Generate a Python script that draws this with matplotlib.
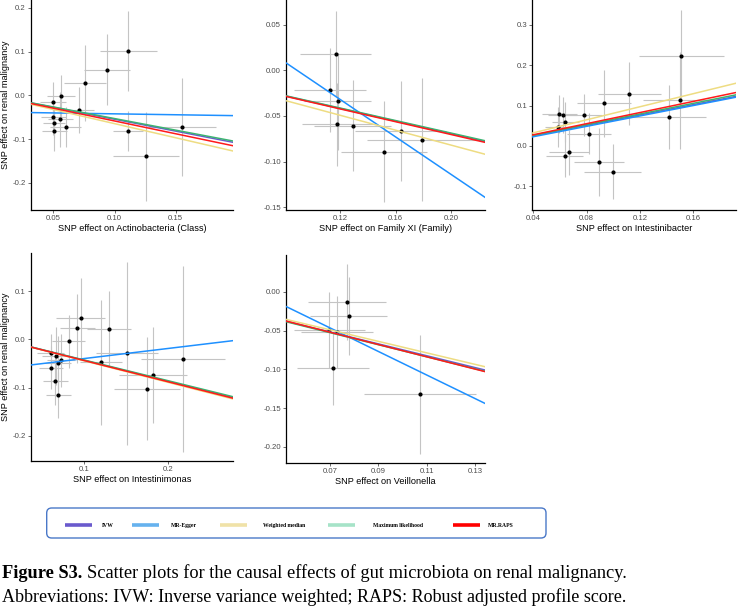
import matplotlib
matplotlib.use("Agg")
import matplotlib.pyplot as plt
from matplotlib.lines import Line2D
from matplotlib.patches import FancyBboxPatch
from matplotlib.transforms import IdentityTransform
import numpy as np

W, H = 738, 607

# ---------------- data ----------------
methods = ["IVW", "MR-Egger", "Weighted median", "Maximum likelihood", "MR.RAPS"]
line_colors = ["#6A5ACD", "#1E90FF", "#EEDC82", "#3CB371", "#FF1A1A"]
legend_colors = ["#6A5ACD", "#66B2EE", "#F0E2A8", "#A6E3C8", "#FF0000"]

x_titles = ["SNP effect on Actinobacteria (Class)", "SNP effect on Family XI (Family)",
            "SNP effect on Intestinibacter", "SNP effect on Intestinimonas",
            "SNP effect on Veillonella"]
y_title = "SNP effect on renal malignancy"

# panel 1: Actinobacteria (Class)
p1_bx = [0.0500, 0.0563, 0.0500, 0.0508, 0.0508, 0.0557, 0.0600, 0.0707, 0.0759, 0.0939, 0.1113, 0.1113, 0.1258, 0.1552]
p1_by = [-0.0145, -0.0015, -0.0500, -0.0630, -0.0810, -0.0550, -0.0716, -0.0335, 0.0280, 0.0590, 0.1010, -0.0820, -0.1390, -0.0730]
p1_sx = [0.0105, 0.0113, 0.0100, 0.0090, 0.0100, 0.0100, 0.0130, 0.0127, 0.0168, 0.0188, 0.0232, 0.0123, 0.0272, 0.0280]
p1_sy = [0.045, 0.048, 0.040, 0.035, 0.045, 0.062, 0.046, 0.052, 0.087, 0.081, 0.091, 0.046, 0.102, 0.112]
# intercepts / slopes per method (IVW, Egger, WM, ML, RAPS)
p1_icpt = [0.0, -0.038, 0.0, 0.0, 0.0]
p1_slope = [-0.545, -0.042, -0.646, -0.530, -0.585]

# panel 2: Family XI (Family)
p2_bx = [0.1169, 0.1128, 0.1183, 0.1181, 0.1291, 0.1516, 0.1636, 0.1792]
p2_by = [0.0182, -0.0215, -0.0340, -0.0590, -0.0606, -0.0890, -0.0664, -0.0760]
p2_sx = [0.0257, 0.0257, 0.0243, 0.0257, 0.0275, 0.0307, 0.0329, 0.0395]
p2_sy = [0.0465, 0.0456, 0.0530, 0.0456, 0.0500, 0.0550, 0.0550, 0.0675]
p2_icpt = [0.0, 0.0918, 0.0, 0.0, 0.0]
p2_slope = [-0.348, -1.030, -0.410, -0.344, -0.352]

# panel 3: Intestinibacter
p3_bx = [0.0595, 0.0620, 0.0588, 0.0640, 0.0783, 0.0818, 0.0635, 0.0670, 0.0930, 0.0895, 0.0995, 0.1120, 0.1420, 0.1510, 0.15025]
p3_by = [0.080, 0.076, 0.047, 0.0587, 0.076, 0.0306, -0.026, -0.0157, 0.106, -0.040, -0.0636, 0.130, 0.072, 0.223, 0.113]
p3_sx = [0.013, 0.011, 0.010, 0.010, 0.0135, 0.0168, 0.0137, 0.015, 0.0205, 0.0188, 0.0215, 0.0235, 0.0275, 0.0318, 0.028]
p3_sy = [0.047, 0.045, 0.050, 0.050, 0.052, 0.050, 0.052, 0.056, 0.083, 0.085, 0.069, 0.078, 0.080, 0.113, 0.120]
p3_icpt = [0.0, -0.003, 0.0, 0.0, 0.0]
p3_slope = [0.640, 0.645, 0.810, 0.660, 0.690]

# panel 4: Intestinimonas
p4_bx = [0.0599, 0.0603, 0.0659, 0.0655, 0.0686, 0.0690, 0.0722, 0.0813, 0.0917, 0.0956, 0.1202, 0.1298, 0.1504, 0.1746, 0.1820, 0.2179]
p4_by = [-0.0290, -0.0587, -0.0352, -0.0870, -0.0490, -0.1147, -0.0435, -0.0040, 0.0228, 0.0450, -0.0480, 0.0214, -0.0290, -0.1020, -0.0740, -0.0400]
p4_sx = [0.016, 0.0143, 0.016, 0.015, 0.016, 0.015, 0.017, 0.020, 0.021, 0.029, 0.025, 0.026, 0.037, 0.039, 0.040, 0.050]
p4_sy = [0.040, 0.045, 0.060, 0.050, 0.055, 0.048, 0.055, 0.055, 0.071, 0.083, 0.129, 0.078, 0.190, 0.107, 0.100, 0.193]
p4_icpt = [0.0, -0.0607, 0.0, 0.0, 0.0]
p4_slope = [-0.436, 0.209, -0.446, -0.429, -0.440]

# panel 5: Veillonella
p5_bx = [0.0770, 0.0777, 0.0712, 0.1072, 0.0697, 0.0730]
p5_by = [-0.0129, -0.0310, -0.0987, -0.1320, -0.0490, -0.0517]
p5_sx = [0.0160, 0.0158, 0.0149, 0.0231, 0.0146, 0.0148]
p5_sy = [0.049, 0.0506, 0.047, 0.077, 0.049, 0.0465]
p5_icpt = [0.002, 0.0603, 0.0032, 0.002, 0.0037]
p5_slope = [-0.768, -1.525, -0.745, -0.780, -0.796]

panels = [
    dict(bx=p1_bx, by=p1_by, sx=p1_sx, sy=p1_sy, icpt=p1_icpt, slope=p1_slope,
         xlim=(0.0315, 0.1968), ylim=(-0.262, 0.218),
         xticks=[0.05, 0.10, 0.15], xtl=["0.05", "0.10", "0.15"],
         yticks=[-0.2, -0.1, 0.0, 0.1, 0.2], ytl=["-0.2", "-0.1", "0.0", "0.1", "0.2"],
         box=(30.7, 0, 233, 210), ylab=True),
    dict(bx=p2_bx, by=p2_by, sx=p2_sx, sy=p2_sy, icpt=p2_icpt, slope=p2_slope,
         xlim=(0.081, 0.2242), ylim=(-0.153, 0.077),
         xticks=[0.12, 0.16, 0.20], xtl=["0.12", "0.16", "0.20"],
         yticks=[-0.15, -0.10, -0.05, 0.0, 0.05], ytl=["-0.15", "-0.10", "-0.05", "0.00", "0.05"],
         box=(285.7, 0, 485, 210), ylab=False),
    dict(bx=p3_bx, by=p3_by, sx=p3_sx, sy=p3_sy, icpt=p3_icpt, slope=p3_slope,
         xlim=(0.03925, 0.192), ylim=(-0.159, 0.362),
         xticks=[0.04, 0.08, 0.12, 0.16], xtl=["0.04", "0.08", "0.12", "0.16"],
         yticks=[-0.1, 0.0, 0.1, 0.2, 0.3], ytl=["-0.1", "0.0", "0.1", "0.2", "0.3"],
         box=(532.3, 0, 736, 210), ylab=False),
    dict(bx=p4_bx, by=p4_by, sx=p4_sx, sy=p4_sy, icpt=p4_icpt, slope=p4_slope,
         xlim=(0.0361, 0.2774), ylim=(-0.2523, 0.1797),
         xticks=[0.1, 0.2], xtl=["0.1", "0.2"],
         yticks=[-0.2, -0.1, 0.0, 0.1], ytl=["-0.2", "-0.1", "0.0", "0.1"],
         box=(30.7, 252.7, 233, 461), ylab=True),
    dict(bx=p5_bx, by=p5_by, sx=p5_sx, sy=p5_sy, icpt=p5_icpt, slope=p5_slope,
         xlim=(0.0517, 0.134), ylim=(-0.2207, 0.0478),
         xticks=[0.07, 0.09, 0.11, 0.13], xtl=["0.07", "0.09", "0.11", "0.13"],
         yticks=[-0.20, -0.15, -0.10, -0.05, 0.0], ytl=["-0.20", "-0.15", "-0.10", "-0.05", "0.00"],
         box=(285.7, 255, 485, 462.7), ylab=False),
]

plt.rcParams["font.family"] = ["Liberation Sans", "DejaVu Sans"]
fig = plt.figure(figsize=(W / 100, H / 100), dpi=100)

tick_fs = 5.6
title_fs = 6.6
for i, p in enumerate(panels):
    l, t, r, b = p["box"]
    ax = fig.add_axes([l / W, 1 - b / H, (r - l) / W, (b - t) / H])
    ax.errorbar(p["bx"], p["by"], xerr=p["sx"], fmt="none", ecolor="#C4C4C4",
                elinewidth=0.8, capsize=0, zorder=1)
    ax.errorbar(p["bx"], p["by"], yerr=p["sy"], fmt="none", ecolor="#C4C4C4",
                elinewidth=0.8, capsize=0, zorder=1)
    ax.scatter(p["bx"], p["by"], s=9, color="black", zorder=2, linewidths=0)
    for k in range(len(methods)):
        ax.axline((0, p["icpt"][k]), slope=p["slope"][k], color=line_colors[k],
                  lw=1.1, zorder=3 + k)
    ax.set_xlim(*p["xlim"])
    ax.set_ylim(*p["ylim"])
    ax.set_xticks(p["xticks"])
    ax.set_xticklabels(p["xtl"])
    ax.set_yticks(p["yticks"])
    ax.set_yticklabels(p["ytl"])
    ax.tick_params(labelsize=tick_fs, labelcolor="#4D4D4D", color="#333333",
                   length=2, width=0.5, pad=1.5)
    for s in ["top", "right"]:
        ax.spines[s].set_visible(False)
    for s in ["left", "bottom"]:
        ax.spines[s].set_linewidth(0.9)
        ax.spines[s].set_color("black")
    ax.set_xlabel(x_titles[i], fontsize=title_fs, labelpad=1.5)
    if p["ylab"]:
        ax.set_ylabel(y_title, fontsize=title_fs, labelpad=2)

# legend box (layout in output pixels, y measured from top)
box = FancyBboxPatch((46.7, H - 538), 546 - 46.7, 30,
                     boxstyle="round,pad=0,rounding_size=5",
                     transform=IdentityTransform(), facecolor="white",
                     edgecolor="#4A78C8", linewidth=1.0)
fig.patches.append(box)

key_x = [65, 132, 220, 328, 453]
label_x = [102, 171, 263, 373, 488]
key_len = 27
key_y = H - 525
for k, name in enumerate(methods):
    fig.add_artist(Line2D([key_x[k], key_x[k] + key_len], [key_y, key_y],
                          color=legend_colors[k], lw=2.6, solid_capstyle="butt",
                          transform=IdentityTransform()))
    fig.text(label_x[k] / W, 1 - 525.5 / H, name, family="Liberation Serif",
             weight="bold", fontsize=4.1, va="center", ha="left")

# caption
fig.canvas.draw()
r = fig.canvas.get_renderer()
t1 = fig.text(2.5 / W, 1 - 578 / H, "Figure S3.", fontsize=13.2,
              family="Liberation Serif", weight="bold", va="baseline")
bb = t1.get_window_extent(renderer=r)
fig.text((bb.x1 + 4) / W, 1 - 578 / H,
         "Scatter plots for the causal effects of gut microbiota on renal malignancy.",
         fontsize=13.2, family="Liberation Serif", va="baseline")
fig.text(1.5 / W, 1 - 601.5 / H,
         "Abbreviations: IVW: Inverse variance weighted; RAPS: Robust adjusted profile score.",
         fontsize=13.0, family="Liberation Serif", va="baseline")

fig.savefig("out.png", dpi=100)
